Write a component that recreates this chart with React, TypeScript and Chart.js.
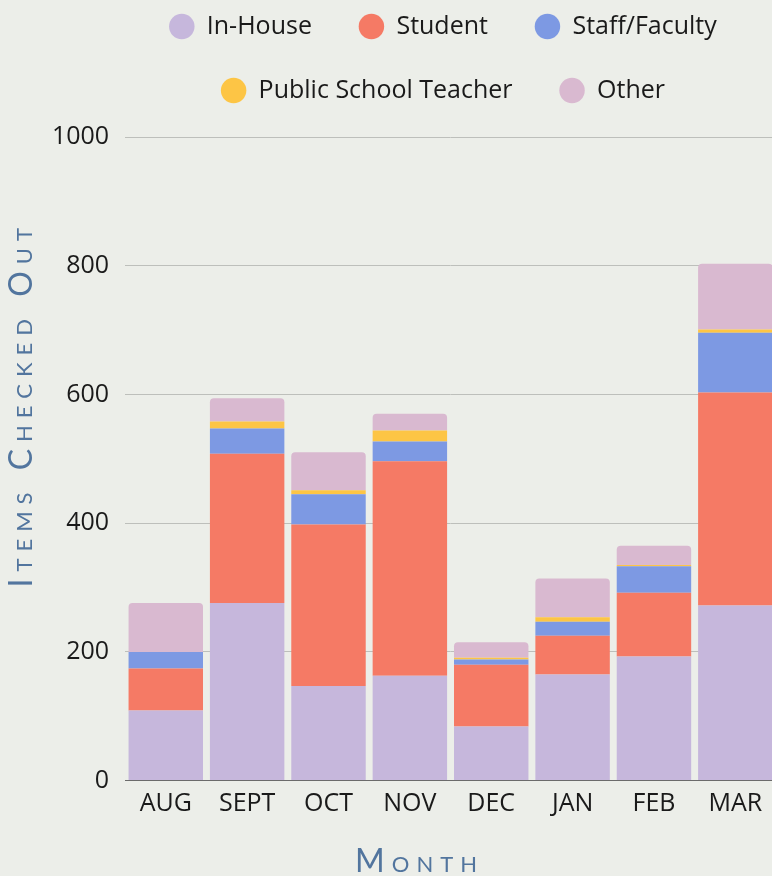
import React, { useEffect, useRef } from "react";
import { Chart, registerables } from "chart.js";

Chart.register(...registerables);

const months = ["AUG", "SEPT", "OCT", "NOV", "DEC", "JAN", "FEB", "MAR"];
const inHouse = [109, 276, 147, 163, 84, 165, 193, 272];
const student = [65, 232, 251, 333, 96, 60, 99, 331];
const staffFaculty = [26, 39, 47, 31, 8, 22, 41, 93];
const publicSchoolTeacher = [0, 11, 6, 17, 3, 7, 2, 5];
const other = [76, 36, 59, 26, 24, 60, 30, 102];

const seriesNames = ["In-House", "Student", "Staff/Faculty", "Public School Teacher", "Other"];
const seriesColors = ["#C6B7DC", "#F57A65", "#7D99E3", "#FDC545", "#D9B9D0"];
const yTicks = [0, 200, 400, 600, 800, 1000];

const BG = "#ECEEE9";
const TITLE_COLOR = "#52759E";
const FONT = "'Open Sans', Lato, sans-serif";
const TITLE_FONT = "Lato, sans-serif";
const CANVAS_W = 776;

// Legend: wide horizontal gaps, tighter rows (rows drawn separately and nudged)
const legendPatch = {
  id: "legendPatch",
  beforeInit(chart: any) {
    const lg = chart.legend;
    if (!lg) return;
    const origFit = lg.fit;
    lg.fit = function () {
      origFit.call(this);
      this.height += 8;
    };
    const origDraw = lg.draw;
    lg.draw = function () {
      const ctx = this.ctx;
      const split = this.top + 95;
      const dx = -7.5;
      ctx.save();
      ctx.translate(dx, -8);
      ctx.beginPath();
      ctx.rect(-200, -200, CANVAS_W + 400, split + 200);
      ctx.clip();
      origDraw.call(this);
      ctx.restore();
      ctx.save();
      ctx.translate(dx, -16);
      ctx.beginPath();
      ctx.rect(-200, split, CANVAS_W + 400, 400);
      ctx.clip();
      origDraw.call(this);
      ctx.restore();
    };
  },
};

const titleSpacing = {
  id: "titleSpacing",
  afterLayout(chart: any) {
    const shifts: Record<string, [number, number]> = { x: [-31, 0], y: [2.3, -54.5] };
    for (const id of ["x", "y"]) {
      const s = chart.scales[id];
      if (!s || s._spacingPatched) continue;
      const orig = s.drawTitle;
      s.drawTitle = function (...args: any[]) {
        const ctx = this.ctx;
        ctx.save();
        (ctx as any).letterSpacing = "7px";
        ctx.translate(shifts[id][0], shifts[id][1]);
        orig.apply(this, args);
        ctx.restore();
      };
      s._spacingPatched = true;
    }
  },
};

export default function App() {
  const ref = useRef<HTMLCanvasElement>(null);
  useEffect(() => {
    if (!ref.current) return;
    const values = [inHouse, student, staffFaculty, publicSchoolTeacher, other];
    const chart = new Chart(ref.current, {
      type: "bar",
      data: {
        labels: months,
        datasets: seriesNames.map((name, i) => ({
          label: name,
          data: values[i],
          backgroundColor: seriesColors[i],
          borderWidth: 0,
          borderRadius: 4,
          barPercentage: 0.915,
          categoryPercentage: 1,
        })),
      },
      options: {
        responsive: false,
        animation: false,
        devicePixelRatio: 1,
        layout: { padding: { left: 0, right: 0, top: 0, bottom: 0 } },
        plugins: {
          legend: {
            position: "top",
            fullSize: false,
            labels: {
              usePointStyle: true,
              pointStyle: "circle",
              boxHeight: 18,
              padding: 47,
              color: "#1a1a1a",
              font: { family: FONT, size: 25 },
            },
          },
          tooltip: { enabled: false },
        },
        scales: {
          x: {
            stacked: true,
            grid: { display: false, drawTicks: false },
            border: { display: true, color: "#6b6b6b", width: 1 },
            ticks: { color: "#1a1a1a", padding: 8, font: { family: FONT, size: 25 } },
            title: {
              display: true,
              text: "Month",
              color: TITLE_COLOR,
              font: { family: TITLE_FONT, size: 32, weight: "small-caps 400" as any },
              padding: { top: 16, bottom: 0 },
            },
          },
          y: {
            stacked: true,
            min: 0,
            max: 1000,
            afterBuildTicks: (axis: any) => {
              axis.ticks = yTicks.map((v) => ({ value: v }));
            },
            grid: { color: "#BDBFBB", lineWidth: 1, drawTicks: false },
            border: { display: false },
            ticks: {
              color: "#1a1a1a",
              padding: 16,
              font: { family: FONT, size: 25 },
              callback: (v: any) => String(v),
            },
            title: {
              display: true,
              text: "Items Checked Out",
              color: TITLE_COLOR,
              font: { family: TITLE_FONT, size: 32, lineHeight: 1.06, weight: "small-caps 400" as any },
              padding: { top: 2, bottom: 0 },
            },
          },
        },
      },
      plugins: [legendPatch, titleSpacing],
    });
    return () => chart.destroy();
  }, []);

  return (
    <div
      style={{
        position: "fixed",
        left: 0,
        top: 0,
        width: 772,
        height: 876,
        overflow: "hidden",
        background: BG,
      }}
    >
      <canvas
        ref={ref}
        width={CANVAS_W}
        height={906}
        style={{ position: "absolute", left: 0, top: -25, width: CANVAS_W, height: 906 }}
      />
    </div>
  );
}
